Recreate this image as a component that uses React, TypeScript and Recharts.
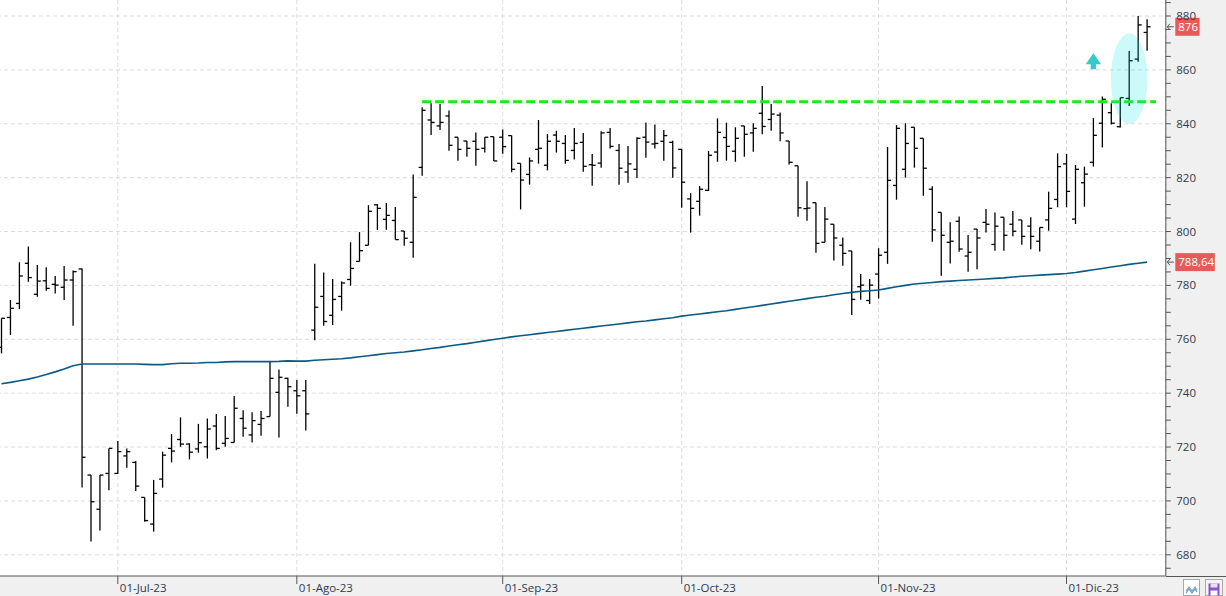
import React from 'react';
import { ComposedChart, Bar, Line, XAxis, YAxis, ReferenceLine, ReferenceDot, CartesianGrid } from 'recharts';

// ---- data ----
const opens = [
  757, 768.1, 773.3, 788.2, 776.7, 781.7, 780.4, 779.3, 782.0, 786.1,
  709.6, 696.9, 710.2, 710.2, 716.7, 714.3, 701.3, 691.4, 708.1, 719.5,
  722.8, 721.1, 719.3, 720.1, 727.8, 721.4, 721.7, 730.6, 724.5, 728.4,
  731.3, 740.3, 745.5, 740.9, 740.9, 763.4, 775.9, 768.9, 775.9, 782.2,
  788.9, 794.9, 809.9, 804.5, 804.1, 800.2, 796.0, 823.8, 841.4, 839.2,
  842.9, 835.0, 833.6, 833.5, 830.9, 835.2, 835.0, 835.6, 825.3, 821.2,
  830.5, 824.6, 835.8, 832.7, 830.1, 833.1, 824.8, 825.4, 836.8, 830.1,
  822.1, 823.1, 835.0, 832.5, 833.5, 833.1, 830.5, 812.1, 811.2, 815.3,
  829.5, 834.9, 829.8, 839.2, 836.6, 843.9, 841.6, 843.2, 833.6, 824.4,
  808.5, 810.7, 796.0, 802.7, 794.9, 792.8, 779.5, 774.4, 784.2, 792.3,
  817.1, 823.1, 838.7, 834.6, 815.7, 807.1, 796.0, 803.8, 790.9, 800.9,
  803.4, 795.2, 805.3, 802.7, 804.3, 802.0, 796.4, 804.3, 811.9, 825.1,
  804.6, 818.1, 825.7, 840.2, 844.1, 838.9, 849.4, 864.0, 873.9,
];
const highs = [
  767.8, 774.6, 788.6, 794.4, 787.6, 786.7, 783.5, 787.2, 785.5, 786.3,
  709.6, 709.6, 719.5, 722.2, 719.5, 714.8, 701.3, 707.8, 718.3, 724.8,
  731.0, 721.4, 728.6, 730.6, 732.3, 731.5, 738.9, 733.7, 732.9, 733.4,
  751.7, 748.8, 745.7, 744.9, 744.9, 788.0, 784.8, 782.4, 781.5, 796.0,
  799.8, 809.8, 810.2, 810.6, 809.1, 800.2, 821.2, 846.1, 847.6, 847.3,
  844.9, 835.0, 833.6, 836.8, 835.0, 835.2, 837.9, 835.6, 825.3, 827.5,
  841.4, 836.2, 837.4, 835.8, 838.4, 836.6, 828.8, 837.2, 838.4, 832.5,
  831.7, 835.0, 840.5, 839.7, 837.7, 833.7, 830.6, 814.2, 816.9, 829.9,
  842.0, 840.4, 838.7, 839.2, 840.2, 854.0, 847.3, 844.2, 833.6, 824.4,
  818.7, 810.7, 809.1, 802.7, 797.8, 792.8, 784.2, 782.4, 793.8, 831.4,
  839.5, 840.2, 838.7, 834.6, 816.8, 807.1, 803.4, 805.6, 798.7, 800.9,
  808.4, 807.1, 805.3, 807.6, 804.3, 805.3, 801.5, 814.8, 829.0, 828.8,
  824.7, 824.1, 842.1, 850.1, 847.6, 849.7, 867.0, 880.0, 878.8,
];
const lows = [
  754.8, 761.6, 771.2, 781.4, 775.8, 778.0, 777.0, 774.6, 765.0, 705.0,
  684.9, 689.0, 704.0, 710.0, 712.3, 703.7, 692.3, 688.6, 704.9, 714.3,
  720.1, 715.4, 717.9, 715.7, 718.8, 720.1, 721.7, 723.8, 721.7, 724.2,
  731.3, 723.5, 735.0, 732.4, 726.1, 759.6, 765.0, 765.3, 770.6, 779.9,
  788.9, 794.9, 800.6, 800.7, 797.0, 794.7, 790.3, 820.7, 835.8, 837.7,
  830.0, 826.3, 827.8, 824.4, 829.3, 826.2, 828.9, 822.0, 808.2, 817.4,
  825.2, 822.7, 829.3, 825.2, 826.7, 822.2, 817.0, 823.7, 830.8, 817.4,
  818.1, 819.9, 827.4, 830.8, 826.3, 820.0, 808.8, 799.6, 805.9, 815.0,
  825.9, 826.3, 825.9, 827.8, 829.6, 836.1, 837.4, 833.5, 824.9, 805.5,
  804.0, 792.1, 796.0, 789.2, 787.3, 769.0, 774.7, 773.1, 775.1, 788.0,
  811.8, 820.0, 823.7, 813.3, 796.2, 783.6, 788.1, 792.5, 785.1, 786.0,
  799.6, 792.9, 792.9, 798.2, 795.1, 793.4, 792.6, 800.3, 809.0, 809.0,
  802.8, 809.2, 824.1, 831.2, 839.7, 838.6, 846.6, 863.0, 867.1,
];
const closes = [
  767.8, 771.5, 783.5, 782.9, 781.6, 778.9, 780.1, 782.0, 785.1, 716.2,
  699.7, 709.6, 719.5, 718.3, 718.3, 705.5, 692.7, 702.8, 717.0, 718.5,
  721.1, 718.1, 721.6, 726.7, 719.5, 723.2, 734.4, 727.0, 729.8, 730.6,
  745.5, 745.9, 742.4, 739.0, 732.3, 771.9, 766.6, 774.8, 780.9, 786.3,
  792.9, 807.5, 808.6, 806.0, 797.0, 797.5, 812.7, 845.0, 840.5, 840.5,
  832.0, 830.5, 830.9, 830.5, 835.0, 826.2, 831.5, 823.1, 819.1, 826.2,
  830.9, 833.5, 833.5, 826.4, 832.7, 824.2, 824.6, 836.6, 831.6, 823.5,
  825.1, 834.6, 833.2, 832.7, 835.6, 823.6, 818.3, 808.6, 815.7, 828.3,
  836.8, 831.6, 834.6, 836.1, 838.3, 839.0, 843.6, 836.6, 825.7, 808.8,
  808.7, 795.6, 804.6, 797.6, 791.9, 774.8, 780.1, 780.1, 791.2, 819.0,
  838.3, 832.7, 830.9, 823.5, 800.6, 798.6, 796.4, 793.5, 792.3, 797.6,
  802.7, 802.0, 798.6, 800.1, 798.2, 798.2, 801.5, 808.6, 824.1, 814.9,
  823.1, 821.3, 835.7, 849.1, 840.2, 849.7, 863.4, 876.7, 876,
];
const movingAverage = [
  743.5, 744.0, 744.6, 745.2, 746.0, 746.9, 747.9, 749.0, 750.2, 750.8,
  750.8, 750.8, 750.8, 750.8, 750.8, 750.8, 750.7, 750.6, 750.6, 750.9,
  751.1, 751.1, 751.2, 751.4, 751.4, 751.6, 751.7, 751.7, 751.7, 751.7,
  751.7, 751.8, 752.0, 751.9, 751.9, 752.2, 752.4, 752.6, 752.8, 753.1,
  753.5, 753.9, 754.3, 754.7, 755.0, 755.3, 755.7, 756.1, 756.6, 757.0,
  757.5, 758.0, 758.4, 758.9, 759.4, 759.9, 760.4, 760.9, 761.3, 761.7,
  762.1, 762.5, 762.9, 763.3, 763.7, 764.1, 764.5, 764.9, 765.3, 765.7,
  766.1, 766.5, 766.8, 767.2, 767.6, 768.0, 768.6, 769.0, 769.4, 769.8,
  770.2, 770.6, 771.1, 771.6, 772.1, 772.6, 773.1, 773.6, 774.1, 774.6,
  775.1, 775.6, 776.0, 776.5, 777.0, 777.4, 777.8, 778.0, 778.3, 778.9,
  779.5, 780.0, 780.5, 780.8, 781.1, 781.4, 781.6, 781.8, 782.0, 782.2,
  782.4, 782.6, 782.8, 783.1, 783.4, 783.6, 783.8, 784.0, 784.2, 784.4,
  784.8, 785.3, 785.8, 786.3, 786.8, 787.3, 787.8, 788.2, 788.64,
];

// categories: one slot per trading session, plus one empty slot on the right
const sessions = Array.from({ length: highs.length + 1 }, (_, i) => i + 1);

const tickSessions = [14, 34, 57, 77, 99, 120];
const tickLabels = ['01-Jul-23', '01-Ago-23', '01-Sep-23', '01-Oct-23', '01-Nov-23', '01-Dic-23'];
const priceGrid = [680, 700, 720, 740, 760, 780, 800, 820, 840, 860, 880];
const priceTicks = [675, 680, 685, 690, 695, 700, 705, 710, 715, 720, 725, 730, 735, 740, 745, 750, 755, 760, 765, 770, 775, 780, 785, 790, 795, 800, 805, 810, 815, 820, 825, 830, 835, 840, 845, 850, 855, 860, 865, 870, 875, 880, 885];
const priceDomain = [672.13, 885.94];

const resistanceLevel = 848.2;
const resistanceFrom = 48;
const resistanceTo = 130;
const breakoutSession = 127;
const breakoutCenter = 856.7;
const arrowSession = 123;
const arrowLevel = 863;

const data = sessions.map((s, i) =>
  i < highs.length
    ? { s, range: [lows[i], highs[i]], open: opens[i], high: highs[i], low: lows[i], close: closes[i], ma: movingAverage[i] }
    : { s }
);

const lastClose = closes[closes.length - 1];
const lastMa = movingAverage[movingAverage.length - 1];
const fmt = (v: number) => (Number.isInteger(v) ? String(v) : v.toFixed(2).replace('.', ','));

const FONT = '"Open Sans", "Noto Sans", sans-serif';
const LABEL = '#2f3a4f';

const OhlcShape = (props: any) => {
  const { x, y, width, height, payload } = props;
  if (!payload || payload.high == null) return <g />;
  const top = Math.min(y, y + height);
  const bottom = Math.max(y, y + height);
  const k = (bottom - top) / (payload.high - payload.low || 1);
  const cx = x + width / 2;
  const yo = top + (payload.high - payload.open) * k;
  const yc = top + (payload.high - payload.close) * k;
  return (
    <g stroke="#000" strokeWidth={1.3}>
      <line x1={cx} x2={cx} y1={top} y2={bottom} />
      <line x1={cx - 3.5} x2={cx} y1={yo} y2={yo} />
      <line x1={cx} x2={cx + 3.5} y1={yc} y2={yc} />
    </g>
  );
};

const XTick = (props: any) => {
  const { x, y, payload } = props;
  const idx = tickSessions.indexOf(payload.value);
  return (
    <text x={x + 2} y={y} dy={8.5} fontSize={11.5} fontFamily={FONT} fill={LABEL} textAnchor="start">
      {idx >= 0 ? tickLabels[idx] : ''}
    </text>
  );
};

const YTick = (props: any) => {
  const { x, y, payload } = props;
  if (payload.value % 20 !== 0) return <g />;
  return (
    <text x={x} y={y} dy={4} fontSize={11.5} fontFamily={FONT} fill={LABEL} textAnchor="start">
      {payload.value}
    </text>
  );
};

const PriceTag = (props: any) => {
  const { viewBox, text } = props;
  if (!viewBox) return <g />;
  const right = viewBox.x + viewBox.width;
  const cy = viewBox.y;
  const w = text.replace(/[,.]/g, '').length * 6.1 + (text.match(/[,.]/g) || []).length * 3 + 6;
  return (
    <g>
      <path d={`M${right + 1.5} ${cy} L${right + 8} ${cy} M${right + 4} ${cy - 3} L${right + 1.5} ${cy} L${right + 4} ${cy + 3}`} stroke="#555" strokeWidth={1} fill="none" />
      <rect x={right + 9.5} y={cy - 9} width={w} height={18} fill="#e65a5a" />
      <text x={right + 12.5} y={cy} dy={4} fontSize={11.5} fontFamily={FONT} fill="#fff">{text}</text>
    </g>
  );
};

const Ellipse = (props: any) => (
  <ellipse cx={props.cx} cy={props.cy} rx={18.3} ry={45.3} fill="#00dfe8" fillOpacity={0.2} />
);

const UpArrow = (props: any) => {
  const { cx, cy } = props;
  return (
    <polygon
      points={`${cx},${cy - 8.5} ${cx + 7.7},${cy + 2.5} ${cx + 2.7},${cy + 2.5} ${cx + 2.7},${cy + 7.5} ${cx - 2.7},${cy + 7.5} ${cx - 2.7},${cy + 2.5} ${cx - 7.7},${cy + 2.5}`}
      fill="#36c9c9"
    />
  );
};

const CHART_W = 1228.8;
const CHART_H = 596;
const AXIS_W = 60;
const AXIS_H = 20;

export default function App() {
  return (
    <div style={{ position: 'absolute', left: -2.8, top: 0, width: CHART_W, height: CHART_H, background: '#f0f0f0', overflow: 'hidden', fontFamily: FONT }}>
      <div style={{ position: 'absolute', left: 0, top: 0, width: CHART_W - AXIS_W, height: CHART_H - AXIS_H, background: '#fff' }} />
      <div style={{ position: 'absolute', left: CHART_W - AXIS_W, top: CHART_H - AXIS_H - 0.5, width: AXIS_W, height: 1, background: '#555' }} />
      <div style={{ position: 'absolute', left: 0, top: 0 }}>
        <ComposedChart width={CHART_W} height={CHART_H} data={data} margin={{ top: 0, right: 0, bottom: 0, left: 0 }} barCategoryGap={0}>
          <CartesianGrid
            stroke="#dcdcdc"
            strokeDasharray="4 3"
            horizontalValues={priceGrid}
            syncWithTicks={false}
          />
          <XAxis
            dataKey="s"
            type="category"
            ticks={tickSessions}
            interval={0}
            height={AXIS_H}
            padding={{ left: 0, right: 5.3 }}
            axisLine={{ stroke: '#555' }}
            tickLine={{ stroke: '#555' }}
            tickSize={8}
            tickMargin={0}
            tick={<XTick />}
          />
          <YAxis
            orientation="right"
            type="number"
            domain={priceDomain}
            allowDataOverflow
            ticks={priceTicks}
            interval={0}
            width={AXIS_W}
            axisLine={{ stroke: '#555' }}
            tickLine={{ stroke: '#555' }}
            tickSize={5}
            tickMargin={5.5}
            tick={<YTick />}
          />
          <ReferenceDot x={breakoutSession} y={breakoutCenter} r={1} shape={<Ellipse />} />
          <ReferenceDot x={arrowSession} y={arrowLevel} r={1} shape={<UpArrow />} />
          <Line dataKey="ma" type="linear" stroke="#0b5a85" strokeWidth={1.6} dot={false} activeDot={false} isAnimationActive={false} />
          <Bar dataKey="range" shape={<OhlcShape />} isAnimationActive={false} />
          <ReferenceLine
            segment={[{ x: resistanceFrom, y: resistanceLevel }, { x: resistanceTo, y: resistanceLevel }]}
            stroke="#14ee14"
            strokeWidth={3}
            strokeDasharray="9 4"
          />
          <ReferenceLine y={lastClose} stroke="none" label={(p: any) => <PriceTag viewBox={p.viewBox} text={fmt(lastClose)} />} />
          <ReferenceLine y={lastMa} stroke="none" label={(p: any) => <PriceTag viewBox={p.viewBox} text={fmt(lastMa)} />} />
        </ComposedChart>
      </div>
      <div style={{ position: 'absolute', left: 1186.1, top: 578.5, width: 15, height: 15, background: '#fff', border: '1px solid #a9a9a9' }}>
        <svg width={15} height={15}>
          <polyline points="2,9 5,5 8,9 11,5 13,8" fill="none" stroke="#9a9a9a" strokeWidth={1.2} />
          <polyline points="2,11 5,7 8,11 11,7 13,10" fill="none" stroke="#4aa3e0" strokeWidth={1.2} />
        </svg>
      </div>
      <div style={{ position: 'absolute', left: 1207.8, top: 578.5, width: 16, height: 15, background: '#f4f4f4', border: '1px solid #a9a9a9' }}>
        <svg width={16} height={15}>
          <rect x={2.5} y={1.5} width={11} height={12} fill="#8753c6" />
          <rect x={4.5} y={1.5} width={7} height={4} fill="#e9ddf8" />
          <rect x={4.5} y={8.5} width={7} height={5} fill="#fff" />
        </svg>
      </div>
    </div>
  );
}
